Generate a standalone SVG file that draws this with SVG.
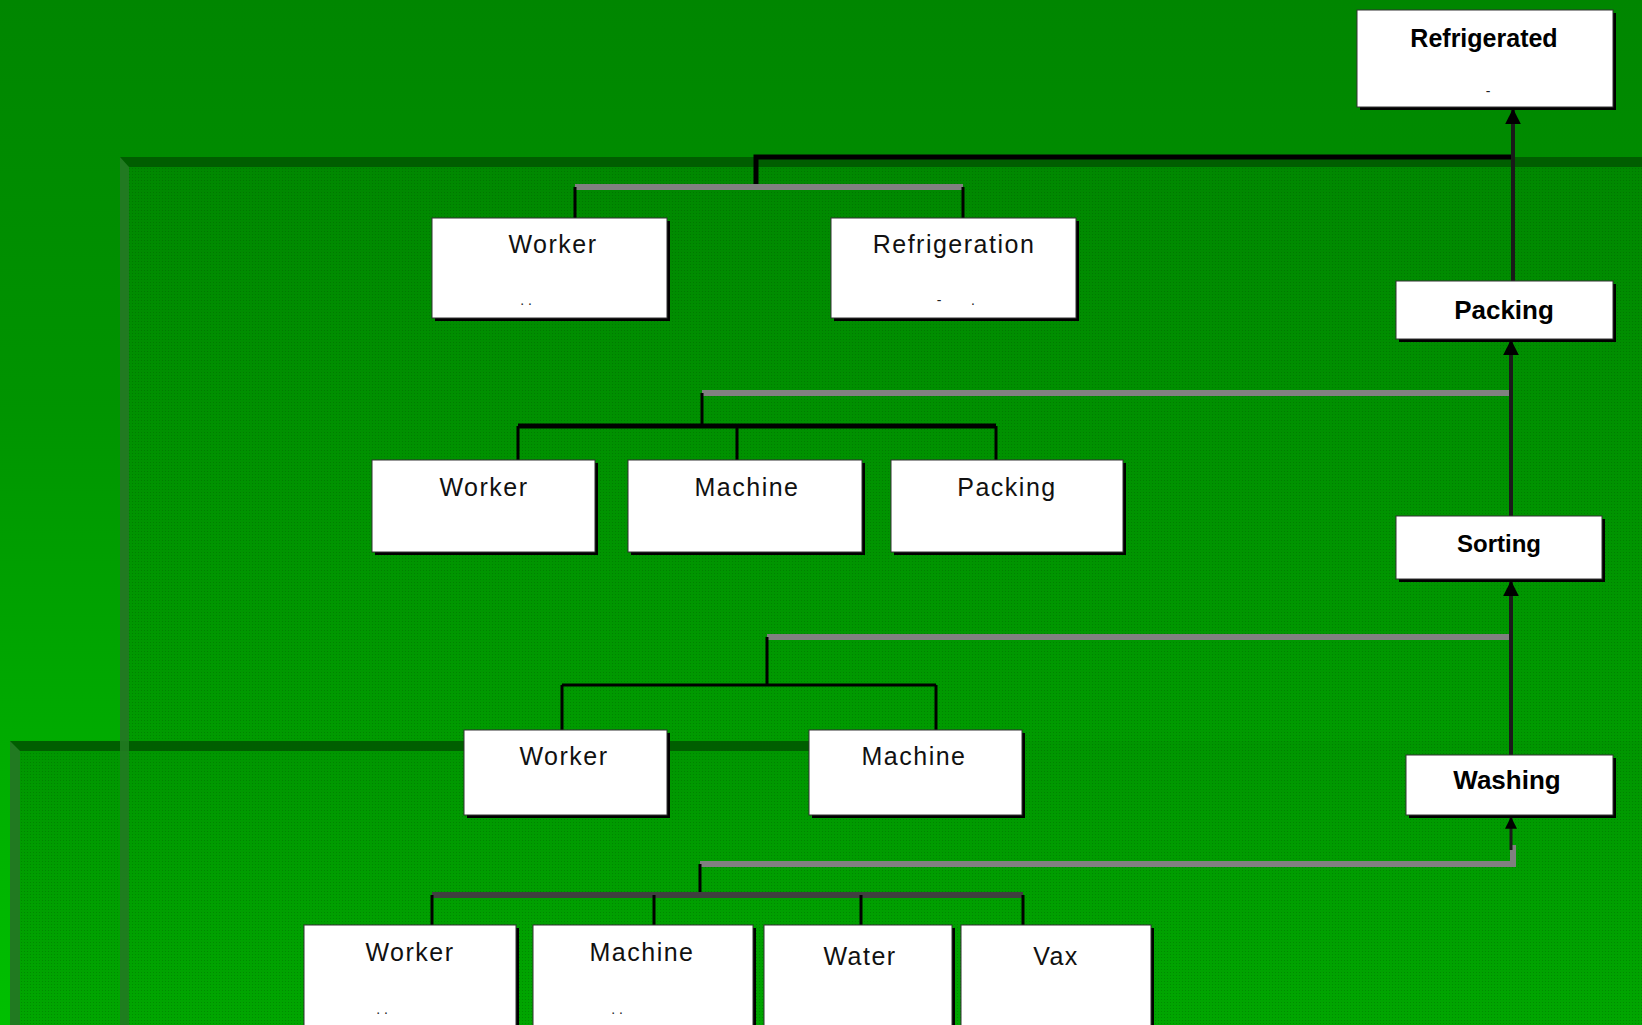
<svg xmlns="http://www.w3.org/2000/svg" width="1642" height="1025" viewBox="0 0 1642 1025">
<defs>
<linearGradient id="bg" x1="0" y1="0" x2="0" y2="1">
<stop offset="0" stop-color="#008600"/>
<stop offset="0.4" stop-color="#009400"/>
<stop offset="1" stop-color="#00c000"/>
</linearGradient>
<linearGradient id="p1" x1="0" y1="0" x2="0" y2="1">
<stop offset="0" stop-color="#008800"/>
<stop offset="1" stop-color="#00a400"/>
</linearGradient>
<linearGradient id="p2" x1="0" y1="0" x2="0" y2="1">
<stop offset="0" stop-color="#009600"/>
<stop offset="1" stop-color="#00a600"/>
</linearGradient>
<pattern id="tex" width="3" height="3" patternUnits="userSpaceOnUse">
<rect x="0" y="0" width="1" height="1" fill="#004000" opacity="0.25"/>
</pattern>
<marker id="ah" viewBox="0 0 10 10" refX="9" refY="5" markerWidth="4" markerHeight="4" orient="auto" markerUnits="strokeWidth">
<path d="M0,0 L10,5 L0,10 z" fill="#000"/>
</marker>
<style>
.box{fill:#fff;stroke:#333;stroke-width:1}
.sh{fill:#000}
.t{font-family:"Liberation Sans",Arial,sans-serif;font-size:25px;letter-spacing:1.5px;fill:#111;text-anchor:middle}
.b{font-family:"Liberation Sans",Arial,sans-serif;font-weight:bold;fill:#000;text-anchor:middle}
.d{font-family:"Liberation Sans",Arial,sans-serif;font-size:14px;fill:#222;text-anchor:middle}
.blk{stroke:#000;stroke-width:3;fill:none}
.gry{stroke:#808080;stroke-width:6;fill:none}
.dg{stroke:#404040;stroke-width:6;fill:none}
.arr{stroke:#1a1a1a;stroke-width:4;fill:none;marker-end:url(#ah)}
</style>
</defs>
<rect x="0" y="0" width="1642" height="1025" fill="url(#bg)"/>
<g id="panel1">
<rect x="120" y="157" width="1522" height="868" fill="url(#p1)"/>
<rect x="120" y="157" width="1522" height="868" fill="url(#tex)"/>
<rect x="120" y="157" width="1522" height="10" fill="#005e00"/>
<polygon points="120,157 129,167 129,1025 120,1025" fill="#217a21"/>
</g>
<g id="panel2">
<rect x="10" y="741" width="1632" height="284" fill="url(#p2)"/>
<rect x="10" y="741" width="1632" height="284" fill="url(#tex)"/>
<rect x="10" y="741" width="800" height="10" fill="#005e00"/>
<polygon points="10,741 20,751 20,1025 10,1025" fill="#217a21"/>
<rect x="120" y="741" width="9" height="284" fill="#217a21" opacity="0.9"/>
</g>
<g id="connectors">
<path class="blk" d="M756,188 V157 H1513" style="stroke-width:5"/>
<path class="arr" d="M1513,281 V110"/>
<path class="gry" d="M575,187 H963"/>
<path class="blk" d="M575,187 V218 M963,187 V218"/>
<path class="gry" d="M702,393 H1511"/>
<path class="blk" d="M702,393 V426"/>
<path class="blk" d="M518,426 H996" style="stroke-width:5"/>
<path class="blk" d="M518,426 V460 M737,426 V460 M996,426 V460"/>
<path class="arr" d="M1511,516 V341"/>
<path class="gry" d="M767,637 H1511"/>
<path class="blk" d="M767,637 V685 M562,685 H936 M562,685 V730 M936,685 V730"/>
<path class="arr" d="M1511,755 V582"/>
<path class="gry" d="M700,864 H1513 V845"/>
<path class="arr" d="M1511,850 V818" style="stroke-width:3"/>
<path class="blk" d="M700,864 V895"/>
<path class="dg" d="M432,895 H1023"/>
<path class="blk" d="M432,895 V925 M654,895 V925 M861,895 V925 M1023,895 V925"/>
</g>
<g id="n-refrigerated">
<rect class="sh" x="1360" y="13" width="256" height="97"/>
<rect class="box" x="1357" y="10" width="256" height="97"/>
<text class="b" x="1484" y="47" font-size="25">Refrigerated</text>
<text class="d" x="1488" y="96">-</text>
</g>
<g id="n-worker4">
<rect class="sh" x="435" y="221" width="235" height="100"/>
<rect class="box" x="432" y="218" width="235" height="100"/>
<text class="t" x="553" y="253">Worker</text>
<text class="d" x="526" y="305">. .</text>
</g>
<g id="n-refrigeration">
<rect class="sh" x="834" y="221" width="245" height="100"/>
<rect class="box" x="831" y="218" width="245" height="100"/>
<text class="t" x="954" y="253">Refrigeration</text>
<text class="d" x="939" y="305">-</text>
<text class="d" x="973" y="305">.</text>
</g>
<g id="n-packing">
<rect class="sh" x="1399" y="284" width="217" height="58"/>
<rect class="box" x="1396" y="281" width="217" height="58"/>
<text class="b" x="1504" y="319" font-size="26">Packing</text>
</g>
<g id="n-worker3">
<rect class="sh" x="375" y="463" width="223" height="92"/>
<rect class="box" x="372" y="460" width="223" height="92"/>
<text class="t" x="484" y="496">Worker</text>
</g>
<g id="n-machine3">
<rect class="sh" x="631" y="463" width="234" height="92"/>
<rect class="box" x="628" y="460" width="234" height="92"/>
<text class="t" x="747" y="496">Machine</text>
</g>
<g id="n-packing3">
<rect class="sh" x="894" y="463" width="232" height="92"/>
<rect class="box" x="891" y="460" width="232" height="92"/>
<text class="t" x="1007" y="496">Packing</text>
</g>
<g id="n-sorting">
<rect class="sh" x="1399" y="519" width="206" height="63"/>
<rect class="box" x="1396" y="516" width="206" height="63"/>
<text class="b" x="1499" y="552" font-size="24">Sorting</text>
</g>
<g id="n-worker2">
<rect class="sh" x="467" y="733" width="203" height="85"/>
<rect class="box" x="464" y="730" width="203" height="85"/>
<text class="t" x="564" y="765">Worker</text>
</g>
<g id="n-machine2">
<rect class="sh" x="812" y="733" width="213" height="85"/>
<rect class="box" x="809" y="730" width="213" height="85"/>
<text class="t" x="914" y="765">Machine</text>
</g>
<g id="n-washing">
<rect class="sh" x="1409" y="758" width="207" height="60"/>
<rect class="box" x="1406" y="755" width="207" height="60"/>
<text class="b" x="1507" y="789" font-size="26">Washing</text>
</g>
<g id="n-worker1">
<rect class="sh" x="307" y="928" width="212" height="100"/>
<rect class="box" x="304" y="925" width="212" height="110"/>
<text class="t" x="410" y="961">Worker</text>
<text class="d" x="382" y="1014">. .</text>
</g>
<g id="n-machine1">
<rect class="sh" x="536" y="928" width="220" height="100"/>
<rect class="box" x="533" y="925" width="220" height="110"/>
<text class="t" x="642" y="961">Machine</text>
<text class="d" x="617" y="1014">. .</text>
</g>
<g id="n-water">
<rect class="sh" x="767" y="928" width="188" height="100"/>
<rect class="box" x="764" y="925" width="188" height="110"/>
<text class="t" x="860" y="965">Water</text>
</g>
<g id="n-vax">
<rect class="sh" x="964" y="928" width="190" height="100"/>
<rect class="box" x="961" y="925" width="190" height="110"/>
<text class="t" x="1056" y="965">Vax</text>
</g>
</svg>
